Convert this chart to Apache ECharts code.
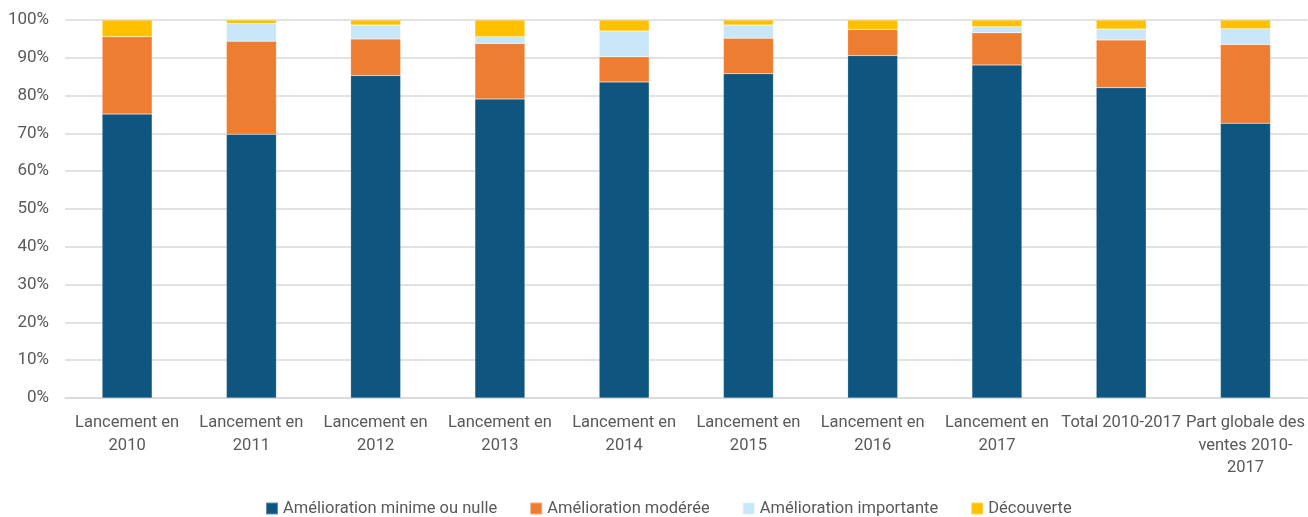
<!DOCTYPE html>
<html>
<head>
<meta charset="utf-8">
<script src="https://cdn.jsdelivr.net/npm/echarts@6/dist/echarts.min.js"></script>
<style>html,body{margin:0;padding:0;background:#fff}#c{width:1308px;height:517px}</style>
</head>
<body>
<div id="c"></div>
<script>
var categories = ["Lancement en\n2010","Lancement en\n2011","Lancement en\n2012","Lancement en\n2013","Lancement en\n2014","Lancement en\n2015","Lancement en\n2016","Lancement en\n2017","Total 2010-2017","Part globale des\nventes 2010-\n2017"];
var seriesNames = ["Amélioration minime ou nulle","Amélioration modérée","Amélioration importante","Découverte"];
var minimal = [75.1, 69.8, 85.3, 79.1, 83.6, 85.8, 90.6, 88.1, 82.1, 72.7];
var moderate = [20.5, 24.6, 9.7, 14.7, 6.7, 9.4, 6.9, 8.5, 12.6, 20.8];
var important = [0, 4.7, 3.7, 1.8, 6.8, 3.5, 0, 1.6, 2.9, 4.2];
var discovery = [4.4, 0.9, 1.3, 4.4, 2.9, 1.3, 2.5, 1.8, 2.4, 2.3];
var colors = ["#0e5580","#ed7d31","#c9e7f8","#ffc000"];
var data = [minimal, moderate, important, discovery];

var chart = echarts.init(document.getElementById('c'));
var font = "Roboto, 'Liberation Sans Narrow', sans-serif";
chart.setOption({
  animation: false,
  grid: {left: 65, right: 0, top: 20, bottom: 119},
  legend: {
    top: 495, left: 260,
    itemWidth: 12, itemHeight: 12, itemGap: 32,
    icon: 'rect',
    textStyle: {color: '#595959', fontSize: 16.5, fontFamily: font},
    data: seriesNames
  },
  xAxis: {
    type: 'category', data: categories,
    axisLine: {lineStyle: {color: '#d9d9d9', width: 1.5}},
    axisTick: {show: false},
    axisLabel: {color: '#595959', fontSize: 16.5, fontFamily: font, margin: 14, lineHeight: 22.5, interval: 0}
  },
  yAxis: {
    type: 'value', min: 0, max: 100, interval: 10,
    axisLabel: {formatter: '{value}%', color: '#595959', fontSize: 17, fontFamily: font, margin: 16},
    splitLine: {lineStyle: {color: '#d9d9d9', width: 1.5}},
    axisLine: {show: false}, axisTick: {show: false}
  },
  series: seriesNames.map(function(n, i){
    return {
      name: n, type: 'bar', stack: 'total', data: data[i],
      barWidth: 50,
      itemStyle: {color: colors[i], borderColor: 'rgba(255,255,255,0.35)', borderWidth: 0.5}
    };
  })
});
</script>
</body>
</html>
